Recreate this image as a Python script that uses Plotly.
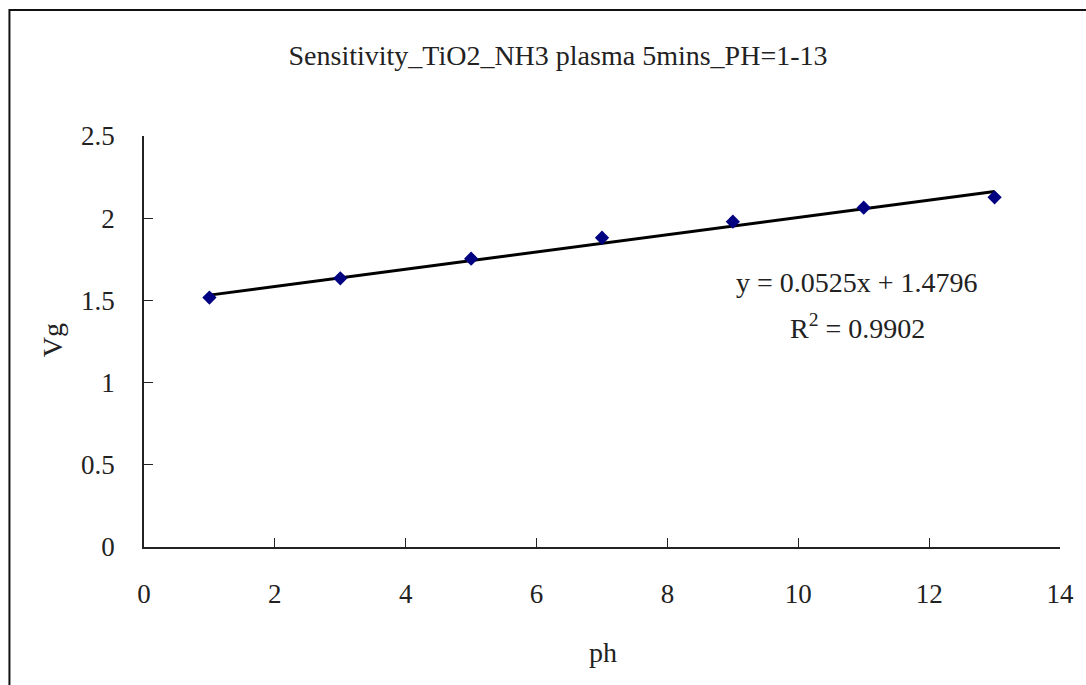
import plotly.graph_objects as go

# Data
ph = [1, 3, 5, 7, 9, 11, 13]
vg = [1.517, 1.634, 1.754, 1.881, 1.979, 2.064, 2.127]
slope = 0.0525
intercept = 1.4796
r2 = 0.9902
title_text = "Sensitivity_TiO2_NH3 plasma 5mins_PH=1-13"
x_ticks = [0, 2, 4, 6, 8, 10, 12, 14]
y_ticks = [0, 0.5, 1, 1.5, 2, 2.5]

FONT = "Liberation Serif"
W, H = 1086, 685
L, R, T, B = 144, 23, 136, 138
pw, ph_h = W - L - R, H - T - B

def px_to_paper_x(px):
    return (px - L) / pw

def px_to_paper_y(py):
    return (H - B - py) / ph_h

fit_x = [min(ph), max(ph)]
fit_y = [slope * v + intercept for v in fit_x]

fig = go.Figure()
fig.add_trace(go.Scatter(x=fit_x, y=fit_y, mode="lines",
                         line=dict(color="black", width=3), showlegend=False,
                         hoverinfo="skip"))
fig.add_trace(go.Scatter(x=ph, y=vg, mode="markers",
                         marker=dict(symbol="diamond", size=11, color="#000080",
                                     line=dict(width=0)),
                         showlegend=False))

axis_common = dict(showgrid=False, zeroline=False, showline=True, linecolor="#222",
                   linewidth=1.5, ticks="inside", ticklen=9, tickwidth=1,
                   tickcolor="#222", tickfont=dict(family=FONT, size=27, color="#222"))

fig.update_xaxes(range=[0, 14], tickvals=x_ticks, ticklabelstandoff=22, **axis_common)
fig.update_yaxes(range=[0, 2.5], tickvals=y_ticks, ticklabelstandoff=22, **axis_common)

txt = dict(family=FONT, size=28, color="#222")

fig.update_layout(
    width=W, height=H,
    margin=dict(l=L, r=R, t=T, b=B),
    paper_bgcolor="white", plot_bgcolor="white",
    title=dict(text=title_text, x=558 / W, xanchor="center", y=1 - 55 / H,
               yanchor="middle", yref="container", font=txt),
    shapes=[dict(type="rect", xref="paper", yref="paper",
                 x0=px_to_paper_x(9), x1=px_to_paper_x(1100),
                 y0=px_to_paper_y(700), y1=px_to_paper_y(10),
                 line=dict(color="#111", width=2), fillcolor="rgba(0,0,0,0)",
                 layer="below")],
    annotations=[
        dict(text="Vg", xref="paper", yref="paper", x=px_to_paper_x(52), y=px_to_paper_y(340),
             xanchor="center", yanchor="middle",
             textangle=-90, showarrow=False, font=txt),
        dict(text="ph", xref="paper", yref="paper", x=px_to_paper_x(605), y=px_to_paper_y(652),
             xanchor="center", yanchor="middle", showarrow=False, font=txt),
        dict(text=f"y = {slope}x + {intercept}", xref="x", yref="y", x=10.9, y=1.61,
             xanchor="center", yanchor="middle", showarrow=False, font=txt),
        dict(text=f"R<sup>2</sup> = {r2}", xref="x", yref="y", x=10.9, y=1.34,
             xanchor="center", yanchor="middle", showarrow=False, font=txt),
    ],
)

fig.write_html("out.html")
